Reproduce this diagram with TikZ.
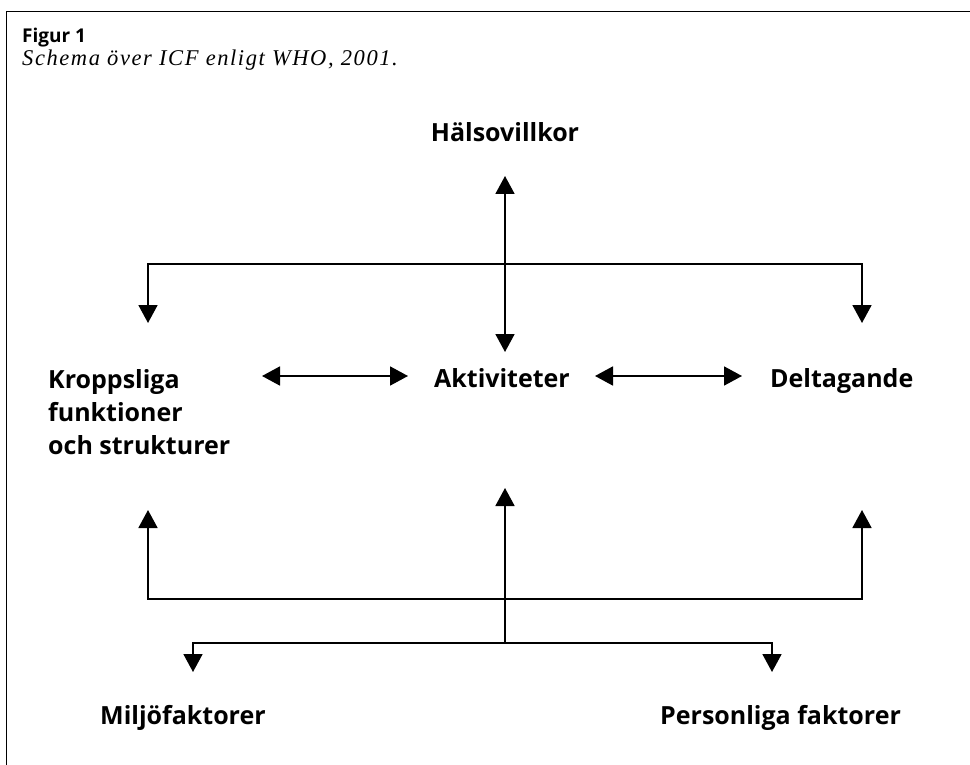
\documentclass[tikz,border=0pt]{standalone}
\usepackage{fontspec}
\setsansfont{Open Sans}
\setmainfont{Liberation Serif}
\newfontfamily\undertitel[LetterSpace=7]{Liberation Serif}
\usetikzlibrary{arrows.meta}

\begin{document}
\begin{tikzpicture}[
    x=1pt, y=-1pt,
    every node/.style={font=\sffamily\bfseries\fontsize{25}{33}\selectfont, inner sep=0pt},
    arr/.style={-{Triangle[width=19pt, length=18pt]}, line width=1.8pt},
    dbl/.style={{Triangle[width=19pt, length=18pt]}-{Triangle[width=19pt, length=18pt]}, line width=1.8pt}
]
    \useasboundingbox (0,0) rectangle (970,765);
    % ===== ram och rubrik =====
    \draw[line width=1.5pt] (6.5,765) -- (6.5,11.5) -- (970,11.5);
    \node[anchor=base west, font=\sffamily\bfseries\fontsize{19}{22}\selectfont] (fig) at (22,43) {Figur 1};
    \node[anchor=base west, font=\undertitel\itshape\fontsize{22.5}{26}\selectfont] (sub) at (22,66) {Schema över ICF enligt WHO, 2001.};

    % ===== begrepp =====
    \node[anchor=base] (hals) at (505,142) {Hälsovillkor};
    \node[anchor=base] (akt) at (502,387) {Aktiviteter};
    \node[anchor=base west] (delt) at (770,387) {Deltagande};
    \node[anchor=north west, align=left] (kropp) at (48,369) {Kroppsliga\\funktioner\\och strukturer};
    \node[anchor=base west] (milj) at (100,724) {Miljöfaktorer};
    \node[anchor=base west] (pers) at (660,724) {Personliga faktorer};

    % ===== pilarnas ändar =====
    \coordinate (h1) at (505,176);
    \coordinate (h2) at (505,352);
    \coordinate (k1) at (148,323);
    \coordinate (d1) at (862,323);
    \coordinate (k2) at (148,510);
    \coordinate (d2) at (862,510);
    \coordinate (a2) at (505,488);
    \coordinate (m1) at (193,672);
    \coordinate (p1) at (772,672);
    \coordinate (kh) at (262,376);
    \coordinate (ka) at (408,376);
    \coordinate (ah) at (595,376);
    \coordinate (dv) at (742,376);

    % ===== pilar =====
    \draw[dbl] (h1) -- (h2);
    \draw[dbl] (k1) -- (148,264) -- (862,264) -- (d1);
    \draw[dbl] (kh) -- (ka);
    \draw[dbl] (ah) -- (dv);
    \draw[dbl] (k2) -- (148,599) -- (862,599) -- (d2);
    \draw[arr] (505,643) -- (a2);
    \draw[dbl] (m1) -- (193,643) -- (772,643) -- (p1);
\end{tikzpicture}
\end{document}
